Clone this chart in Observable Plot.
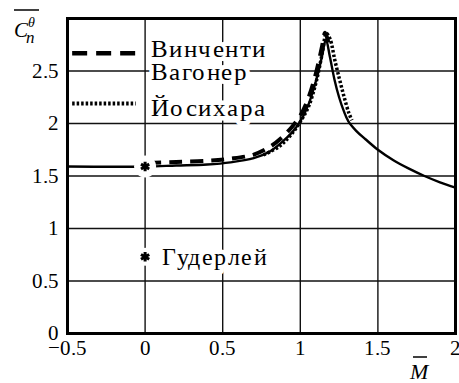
<!DOCTYPE html>
<html>
<head>
<meta charset="utf-8">
<style>
  @font-face { font-family: "ChartSerif"; font-style: normal; font-weight: 400;
    src: local("Liberation Serif"), local("LiberationSerif"), local("LiberationSerif-Regular"); }
  @font-face { font-family: "ChartSerif"; font-style: italic; font-weight: 400;
    src: local("Liberation Serif Italic"), local("LiberationSerif-Italic"); }
  body { margin: 0; background: #fff; }
  .wrap, .wrap svg, .wrap text { font-family: "ChartSerif", "Liberation Serif", serif; }
</style>
<script src="https://cdn.jsdelivr.net/npm/d3@7"></script>
<script src="https://cdn.jsdelivr.net/npm/@observablehq/plot@0.6"></script>
</head>
<body>
<div class="wrap" style="position:relative;width:459px;height:383px">
  <div id="chart" style="position:absolute;left:0;top:0"></div>
  <!-- axis titles: overlined C with subscript n and superscript θ, overlined M -->
  <svg width="459" height="383" style="position:absolute;left:0;top:0;pointer-events:none;z-index:1">
    <line x1="14" x2="39" y1="10" y2="10" stroke="black" stroke-width="1.5"></line>
    <text x="14" y="37" font-size="21" font-style="italic">C</text>
    <text x="26" y="43" font-size="17" font-style="italic">n</text>
    <text x="28" y="27" font-size="14" font-style="italic">θ</text>
    <line x1="413" x2="427" y1="357" y2="357" stroke="black" stroke-width="1.5"></line>
    <text x="410" y="379" font-size="22" font-style="italic">M</text>
  </svg>
</div>
<script>
// Axis ticks and grid positions
const xTicks = [-0.5, 0, 0.5, 1, 1.5, 2];
const yTicks = [0, 0.5, 1, 1.5, 2, 2.5];
const gridX = [0, 0.5, 1, 1.5];
const gridY = [0.5, 1, 1.5, 2, 2.5];

// Вагонер (solid)
const wagonerM = [-0.5, 0, 0.2, 0.4, 0.55, 0.7, 0.8, 0.88, 0.95, 1.0, 1.05, 1.1, 1.14, 1.165, 1.19, 1.22, 1.25, 1.28, 1.31, 1.36, 1.42, 1.5, 1.6, 1.7, 1.8, 1.9, 2.0];
const wagonerC = [1.59, 1.59, 1.60, 1.61, 1.63, 1.67, 1.73, 1.82, 1.92, 2.02, 2.17, 2.40, 2.64, 2.80, 2.64, 2.42, 2.25, 2.12, 2.02, 1.93, 1.85, 1.75, 1.65, 1.57, 1.50, 1.44, 1.39];

// Винченти (dashed)
const vincentiM = [0.02, 0.2, 0.4, 0.55, 0.7, 0.8, 0.88, 0.95, 1.0, 1.05, 1.1, 1.14, 1.16, 1.19];
const vincentiC = [1.61, 1.62, 1.63, 1.65, 1.69, 1.76, 1.85, 1.96, 2.06, 2.22, 2.46, 2.72, 2.85, 2.70];

// Йосихара (dotted)
const yoshiharaM = [0.75, 0.85, 0.92, 0.98, 1.04, 1.09, 1.13, 1.155, 1.18, 1.21, 1.24, 1.27, 1.30, 1.32];
const yoshiharaC = [1.70, 1.78, 1.88, 2.00, 2.16, 2.40, 2.68, 2.86, 2.80, 2.60, 2.42, 2.25, 2.10, 2.03];

// Гудерлей (single point)
const guderleyM = [0];
const guderleyC = [1.59];

const seriesNames = ["Винченти", "Вагонер", "Йосихара", "Гудерлей"];

const toRows = (ms, cs) => ms.map((m, i) => ({M: m, C: cs[i]}));
const wagoner = toRows(wagonerM, wagonerC);
const vincenti = toRows(vincentiM, vincentiC);
const yoshihara = toRows(yoshiharaM, yoshiharaC);
const guderley = toRows(guderleyM, guderleyC);

// Line styles per series
const dashStyle = {stroke: "black", strokeWidth: 4, strokeDasharray: "13,8", strokeLinecap: "butt"};
const dotStyle = {stroke: "black", strokeWidth: 3.5, strokeDasharray: "2.5,2", strokeLinecap: "butt"};

// Legend layout (in chart units)
const legendSampleX = [-0.47, -0.06];
const legendTextX = 0.035;
const legendRows = [
  {name: seriesNames[0], C: 2.71},
  {name: seriesNames[1], C: 2.49},
  {name: seriesNames[2], C: 2.15}
];
const dashSample = legendSampleX.map(x => ({M: x, C: 2.67}));
const dotSample = legendSampleX.map(x => ({M: x, C: 2.19}));
const guderleyLegend = [{M: 0, C: 0.73, textM: 0.11, name: seriesNames[3]}];

const tickFmt = d => (d < 0 ? "\u2212" : "") + String(Math.abs(d));
const serif = "ChartSerif, 'Liberation Serif', serif";

function draw() {
  const chart = Plot.plot({
    width: 459,
    height: 383,
    marginLeft: 67,
    marginRight: 4,
    marginTop: 18,
    marginBottom: 50,
    style: {fontFamily: serif},
    x: {domain: [-0.5, 2], ticks: xTicks},
    y: {domain: [0, 3], ticks: yTicks},
    marks: [
      Plot.ruleX(gridX, {stroke: "#111", strokeWidth: 1.4}),
      Plot.ruleY(gridY, {stroke: "#111", strokeWidth: 1.4}),
      Plot.line(wagoner, {x: "M", y: "C", stroke: "black", strokeWidth: 2.4, curve: "catmull-rom"}),
      Plot.line(vincenti, {x: "M", y: "C", ...dashStyle, curve: "catmull-rom", dy: -1.5}),
      Plot.line(yoshihara, {x: "M", y: "C", ...dotStyle, curve: "catmull-rom", dx: 2}),
      // white clearing around the Гудерлей points
      Plot.dot(guderley, {x: "M", y: "C", r: 11, fill: "white", stroke: "none"}),
      Plot.dot(guderleyLegend, {x: "M", y: "C", r: 9, fill: "white", stroke: "none"}),
      Plot.dot(guderley, {x: "M", y: "C", symbol: "asterisk", r: 4.5, stroke: "black", strokeWidth: 3}),
      Plot.dot(guderleyLegend, {x: "M", y: "C", symbol: "asterisk", r: 4.5, stroke: "black", strokeWidth: 3}),
      // legend samples
      Plot.line(dashSample, {x: "M", y: "C", ...dashStyle, strokeWidth: 4.5, strokeDasharray: "15,9"}),
      Plot.line(dotSample, {x: "M", y: "C", ...dotStyle, strokeWidth: 4}),
      Plot.text(legendRows, {x: () => legendTextX, y: "C", text: "name", textAnchor: "start",
        fontSize: 25, fontFamily: serif, fill: "black", stroke: "white", strokeWidth: 9}),
      Plot.text(guderleyLegend, {x: "textM", y: "C", text: "name", textAnchor: "start",
        fontSize: 24, fontFamily: serif, fill: "black", stroke: "white", strokeWidth: 9}),
      Plot.axisX({ticks: xTicks, tickFormat: tickFmt, tickSize: 0, tickPadding: 7, fontSize: 21, fontFamily: serif, label: null}),
      Plot.axisY({ticks: yTicks, tickFormat: tickFmt, tickSize: 0, tickPadding: 9, fontSize: 21, fontFamily: serif, label: null}),
      Plot.frame({stroke: "black", strokeWidth: 3})
    ]
  });
  d3.select(chart).selectAll("text").style("letter-spacing", function () {
    return +this.parentNode.getAttribute("font-size") >= 24 ? "1.5px" : null;
  });
  document.getElementById("chart").replaceChildren(chart);
}

draw();
// redraw once the serif faces are ready so every label uses them
if (document.fonts && document.fonts.load) {
  Promise.all([
    document.fonts.load("21px ChartSerif"),
    document.fonts.load("italic 21px ChartSerif")
  ]).then(draw, () => {});
}
</script>
</body>
</html>
